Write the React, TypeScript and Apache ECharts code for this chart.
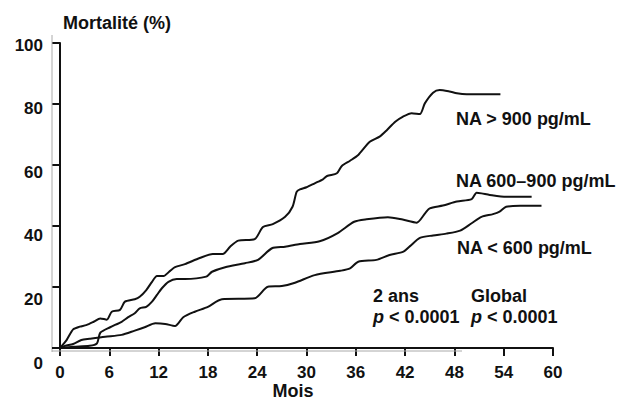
import React, { useEffect, useRef } from "react";
import * as echarts from "echarts";

const xTicks = [0, 6, 12, 18, 24, 30, 36, 42, 48, 54, 60];
const yTicks = [0, 20, 40, 60, 80, 100];

const highMonths = [0, 0.8, 1.6, 2.4, 3.2, 4.1, 4.9, 5.7, 6.3, 7.3, 7.9, 9.1, 9.7, 10.5, 11.2, 11.8, 12.6, 13.4, 14.0, 15.2, 17.0, 18.6, 19.8, 20.7, 21.7, 23.7, 24.7, 25.9, 27.4, 28.3, 28.8, 29.2, 30.0, 31.0, 32.0, 32.5, 33.7, 34.3, 35.3, 36.3, 37.7, 38.9, 39.8, 40.8, 41.7, 42.8, 43.8, 44.4, 45.4, 46.2, 47.4, 48.3, 49.5, 53.6];
const highMort = [0, 2.6, 6.1, 7.0, 7.5, 8.6, 9.7, 9.3, 11.9, 12.5, 15.2, 16.0, 16.8, 19.0, 21.7, 23.6, 23.6, 25.3, 26.5, 27.5, 29.5, 30.8, 30.8, 33.2, 35.2, 35.7, 39.7, 40.6, 43.0, 46.3, 51.2, 52.0, 52.7, 54.0, 55.3, 56.4, 57.3, 59.7, 61.4, 63.3, 67.6, 69.3, 71.5, 74.2, 75.8, 77.0, 76.7, 80.2, 83.7, 84.6, 84.1, 83.5, 83.2, 83.2];

const midMonths = [0, 1.6, 3.6, 4.5, 4.9, 6.1, 7.5, 8.3, 9.1, 9.7, 10.5, 11.2, 11.8, 12.4, 13.2, 14.2, 15.2, 17.8, 18.5, 20.1, 22.5, 24.1, 25.8, 27.4, 29.2, 31.6, 33.8, 35.8, 37.3, 39.9, 41.7, 43.4, 44.5, 45.0, 46.6, 48.3, 50.1, 50.7, 51.3, 52.3, 54.3, 57.4];
const midMort = [0, 0.4, 0.7, 1.5, 5.0, 6.8, 8.6, 10.1, 11.4, 13.0, 13.5, 15.2, 17.4, 19.6, 21.7, 22.6, 22.6, 23.4, 25.0, 26.5, 27.8, 28.9, 32.7, 33.2, 34.1, 35.0, 37.7, 41.4, 42.2, 42.9, 42.1, 41.1, 44.4, 45.8, 46.7, 48.0, 48.8, 50.9, 50.7, 50.2, 49.6, 49.6];

const lowMonths = [0, 0.6, 1.6, 2.6, 3.6, 5.5, 7.5, 9.1, 10.3, 11.6, 12.8, 14.0, 15.0, 16.4, 18.0, 19.7, 23.7, 25.3, 27.0, 28.6, 31.0, 34.1, 35.3, 36.3, 38.5, 40.1, 41.8, 42.6, 43.8, 45.4, 47.0, 48.7, 50.1, 51.3, 52.7, 53.5, 54.3, 56.0, 58.6];
const lowMort = [0, 0.7, 1.3, 2.6, 3.0, 3.7, 4.3, 5.7, 6.8, 8.1, 7.9, 7.2, 10.1, 11.9, 13.5, 16.0, 16.3, 20.1, 20.3, 21.4, 23.9, 25.3, 26.1, 28.3, 28.9, 30.5, 31.6, 33.4, 36.1, 36.9, 37.5, 38.5, 40.9, 43.0, 43.9, 44.7, 46.3, 46.6, 46.6];

const seriesNames = ["NA > 900 pg/mL", "NA 600–900 pg/mL", "NA < 600 pg/mL"];

const zip = (xs: number[], ys: number[]) => xs.map((x, i) => [x, ys[i]]);

const FONT = "'Liberation Sans', Arial, Helvetica, sans-serif";

export default function App() {
  const ref = useRef<HTMLDivElement>(null);
  useEffect(() => {
    if (!ref.current) return;
    const chart = echarts.init(ref.current, undefined, { renderer: "svg" });
    const lineSeries = (name: string, data: number[][]) => ({
      name,
      type: "line",
      data,
      xAxisIndex: 0,
      yAxisIndex: 0,
      showSymbol: false,
      symbol: "none",
      smooth: 0.25,
      lineStyle: { color: "#111", width: 2 },
      z: 3,
    });
    const txt = (text: string, x: number, y: number, align = "left", extra: any = {}) => ({
      type: "text",
      x,
      y,
      z: 10,
      style: {
        text,
        fill: "#111",
        font: `bold 18px ${FONT}`,
        textAlign: align,
        textVerticalAlign: "middle",
        align,
        verticalAlign: "middle",
        ...extra,
      },
    });
    const pText = (x: number, y: number) =>
      txt("{i|p} < 0.0001", x, y, "left", {
        rich: {
          i: { fontStyle: "italic", fontWeight: "bold", fontSize: 18, fontFamily: FONT, fill: "#111" },
        },
      });
    chart.setOption({
      animation: false,
      backgroundColor: "#fff",
      grid: [
        { left: 60, right: 75, top: 43, bottom: 53 },
        { left: 60, right: 75, top: 45, bottom: 38 },
      ],
      xAxis: [
        {
          type: "value",
          gridIndex: 0,
          min: 0,
          max: 60,
          interval: 6,
          axisLine: { show: true, lineStyle: { color: "#111", width: 2 } },
          axisTick: { show: true, inside: false, length: 8, lineStyle: { color: "#111", width: 2 } },
          axisLabel: {
            margin: 16,
            color: "#111",
            fontSize: 17,
            fontWeight: "bold",
            fontFamily: FONT,
            formatter: (v: number) => (xTicks.includes(v) ? String(v) : ""),
          },
          splitLine: { show: false },
        },
        {
          type: "value",
          gridIndex: 1,
          min: 0,
          max: 60,
          show: false,
        },
      ],
      yAxis: [
        {
          type: "value",
          gridIndex: 0,
          min: 0,
          max: 100,
          interval: 20,
          axisLine: { show: true, lineStyle: { color: "#111", width: 2 } },
          axisTick: { show: true, inside: false, length: 8, lineStyle: { color: "#111", width: 2 } },
          axisLabel: { show: false },
          splitLine: { show: false },
        },
        {
          type: "value",
          gridIndex: 1,
          min: 0,
          max: 100,
          interval: 20,
          axisLine: { show: false },
          axisTick: { show: false },
          splitLine: { show: false },
          axisLabel: {
            margin: 17,
            color: "#111",
            fontSize: 17,
            fontWeight: "bold",
            fontFamily: FONT,
            formatter: (v: number) => (yTicks.includes(v) ? String(v) : ""),
          },
        },
      ],
      series: [
        lineSeries(seriesNames[0], zip(highMonths, highMort)),
        lineSeries(seriesNames[1], zip(midMonths, midMort)),
        lineSeries(seriesNames[2], zip(lowMonths, lowMort)),
      ],
      graphic: [
        { type: "line", shape: { x1: 52, y1: 35, x2: 52, y2: 352 }, style: { stroke: "#aaa", lineWidth: 1 }, z: 1 },
        { type: "line", shape: { x1: 52, y1: 351, x2: 462, y2: 351 }, style: { stroke: "#aaa", lineWidth: 1 }, z: 1 },
        { type: "line", shape: { x1: 52, y1: 348, x2: 61, y2: 348 }, style: { stroke: "#111", lineWidth: 2 }, z: 5 },
        txt("Mortalité (%)", 63, 23),
        txt("Mois", 293, 391, "center"),
        txt(seriesNames[0], 456, 119),
        txt(seriesNames[1], 456, 181),
        txt(seriesNames[2], 457, 248),
        txt("2 ans", 373, 296),
        pText(373, 317),
        txt("Global", 471, 296),
        pText(471, 317),
      ],
    });
    return () => chart.dispose();
  }, []);
  return <div ref={ref} style={{ width: 628, height: 401, position: "absolute", left: 0, top: 0 }} />;
}
